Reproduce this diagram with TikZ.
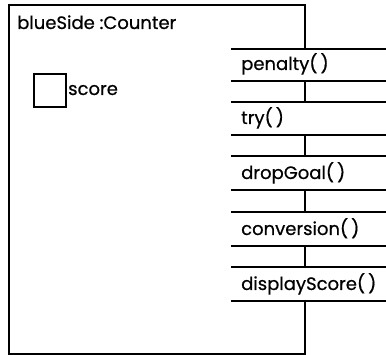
\documentclass[tikz,border=0pt]{standalone}
\usepackage{fontspec}
\setmainfont{Poppins}[FakeBold=0.6]
\begin{document}
\begin{tikzpicture}[x=1pt,y=-1pt,
  edge/.style={line width=1.2pt,black},
  opline/.style={line width=1.4pt,black},
  lbl/.style={anchor=base west,inner sep=0pt,font=\fontsize{18}{20}\selectfont}]
\useasboundingbox (0,0) rectangle (386,355);
% outer object box
\draw[edge] (305,49) -- (305,5) -- (9,5) -- (9,354) -- (305,354) -- (305,301);
\foreach \a/\b in {81/102,135/156,190/212,246/267}
  \draw[edge] (305,\a) -- (305,\b);
% title
\node[lbl] (title) at (17,29) {blueSide :Counter};
% attribute
\node[draw,line width=1.1pt,minimum width=32pt,minimum height=33pt,inner sep=0pt] (scorebox) at (50,90.5) {};
\node[lbl] (score) at (68,95) {score};
% operations
\foreach \t/\bt/\n/\txt in {49/81/penalty/penalty(\,),102/135/try/try(\,),156/190/dropGoal/dropGoal(\,),212/246/conversion/conversion(\,),267/301/displayScore/displayScore(\,)}{
  \draw[opline] (231,\t) -- (386,\t);
  \draw[opline] (231,\bt) -- (386,\bt);
  \node[lbl] (\n) at (241,{\bt-11}) {\txt};
}
\end{tikzpicture}
\end{document}
